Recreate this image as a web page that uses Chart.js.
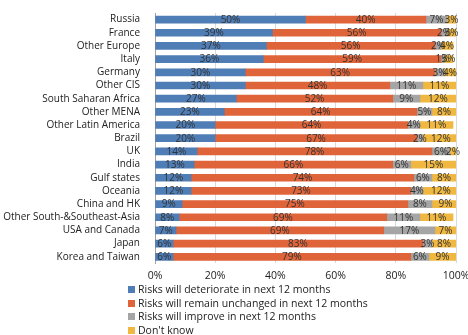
<!DOCTYPE html>
<html>
<head>
<meta charset="utf-8">
<script src="https://cdn.jsdelivr.net/npm/chart.js@4.4.0/dist/chart.umd.min.js"></script>
<style>
    body { margin: 0; background: #fff; font-family: "Open Sans", sans-serif; overflow: hidden; }
    #wrap { position: relative; width: 468px; height: 288px; }
    #legend { position: absolute; top: 283px; left: 0; margin: 0; padding: 0 0 0 128px; list-style: none; font-size: 10.5px; color: #222; }
    #legend li { height: 13.5px; line-height: 13.5px; white-space: nowrap; letter-spacing: 0px; }
    #legend span { display: inline-block; width: 7px; height: 7px; margin-right: 3px; vertical-align: 0px; }
</style>
</head>
<body>
<div id="wrap"><canvas id="riskChart" width="468" height="288"></canvas></div>
<ul id="legend"></ul>
<script>
// Данные графика
const categories = ['Russia', 'France', 'Other Europe', 'Italy', 'Germany', 'Other CIS',
    'South Saharan Africa', 'Other MENA', 'Other Latin America', 'Brazil', 'UK', 'India',
    'Gulf states', 'Oceania', 'China and HK', 'Other South-&Southeast-Asia', 'USA and Canada',
    'Japan', 'Korea and Taiwan'];
const deteriorate = [50, 39, 37, 36, 30, 30, 27, 23, 20, 20, 14, 13, 12, 12, 9, 8, 7, 6, 6];
const unchanged   = [40, 56, 56, 59, 63, 48, 52, 64, 64, 67, 78, 66, 74, 73, 75, 69, 69, 83, 79];
const improve     = [7, 2, 2, 1, 3, 11, 9, 5, 4, 2, 6, 6, 6, 4, 8, 11, 17, 3, 6];
const dontKnow    = [3, 3, 4, 3, 4, 11, 12, 8, 11, 12, 2, 15, 8, 12, 9, 11, 7, 8, 9];
const xTicks = ['0%', '20%', '40%', '60%', '80%', '100%'];
const seriesNames = [
    'Risks will deteriorate in next 12 months',
    'Risks will remain unchanged in next 12 months',
    'Risks will improve in next 12 months',
    "Don't know"
];

const colors = ['#4F7DB5', '#E0643A', '#A5A5A5', '#F0B840'];
const seriesData = [deteriorate, unchanged, improve, dontKnow];

// Подписи значений внутри сегментов
const valueLabels = {
    id: 'valueLabels',
    afterDatasetsDraw(chart) {
        const ctx = chart.ctx;
        ctx.save();
        ctx.font = '10px "Open Sans", sans-serif';
        ctx.fillStyle = '#333';
        ctx.textAlign = 'center';
        ctx.textBaseline = 'middle';
        chart.data.datasets.forEach((ds, i) => {
            chart.getDatasetMeta(i).data.forEach((bar, j) => {
                const p = bar.getProps(['x', 'y', 'base'], true);
                ctx.fillText(ds.data[j] + '%', (p.x + p.base) / 2, p.y + 0.5);
            });
        });
        ctx.restore();
    }
};

const chart = new Chart(document.getElementById('riskChart'), {
    type: 'bar',
    data: {
        labels: categories,
        datasets: seriesData.map((d, i) => ({
            label: seriesNames[i],
            data: d,
            backgroundColor: colors[i],
            borderWidth: 0,
            barThickness: 7
        }))
    },
    options: {
        indexAxis: 'y',
        responsive: false,
        animation: false,
        layout: { padding: { top: 10, right: 0, left: 0, bottom: 0 } },
        plugins: {
            legend: { display: false },
            tooltip: { enabled: false }
        },
        scales: {
            x: {
                stacked: true,
                min: 0,
                max: 100,
                grid: { color: '#D9D9D9', drawTicks: false },
                border: { display: false },
                afterFit: s => { s.paddingRight = 12; },
                ticks: {
                    stepSize: 20,
                    padding: 6,
                    color: '#222',
                    font: { size: 10.5, family: '"Open Sans", sans-serif' },
                    callback: (v, idx) => xTicks[idx]
                }
            },
            y: {
                stacked: true,
                grid: { display: false },
                border: { display: true, color: '#A0A0A0' },
                afterFit: s => { s.width = 155; },
                ticks: {
                    color: '#222',
                    padding: 7,
                    autoSkip: false,
                    font: { size: 10, family: '"Open Sans", sans-serif' }
                }
            }
        }
    },
    plugins: [valueLabels]
});

// Легенда списком
document.getElementById('legend').innerHTML = seriesNames.map((n, i) =>
    `<li><span style="background:${colors[i]}"></span>${n}</li>`).join('');
</script>
</body>
</html>
